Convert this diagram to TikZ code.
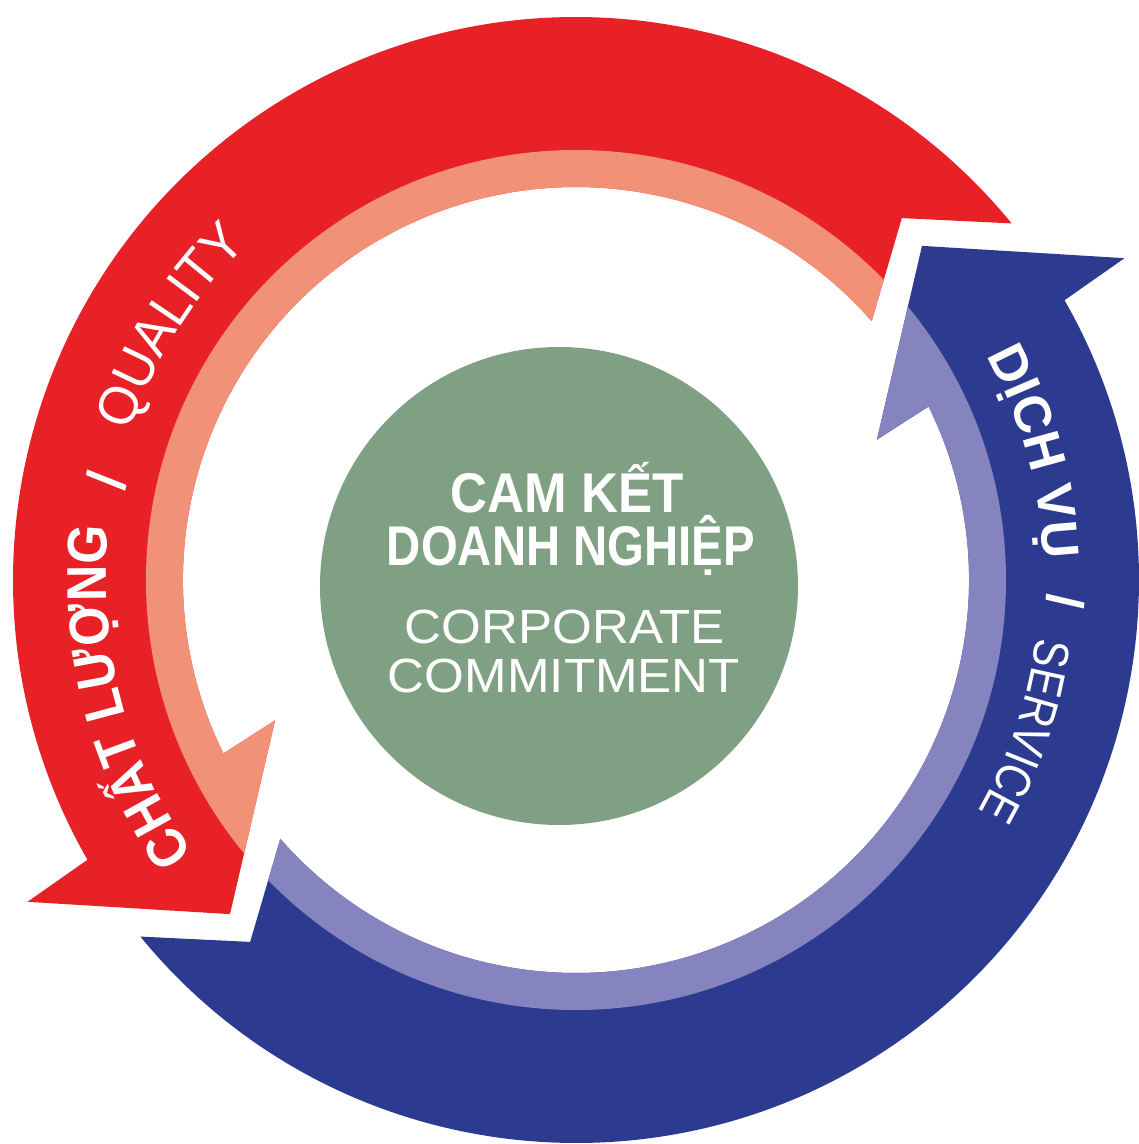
\documentclass[tikz,border=0pt]{standalone}
\usepackage{fontspec}
\setmainfont{Liberation Sans}
\usepackage{graphicx}
\usetikzlibrary{decorations.text}
\definecolor{redc}{HTML}{E82127}
\definecolor{salmonc}{HTML}{F09178}
\definecolor{bluec}{HTML}{2C3A90}
\definecolor{lbluec}{HTML}{8684BE}
\definecolor{greenc}{HTML}{80A084}
\tikzset{
  ringtext/.style={decorate, decoration={text along path, text align=center, text={#1}}},
  slashmark/.style={text=white, inner sep=0pt},
  centertext/.style={anchor=base, text=white, inner sep=0pt}
}
\begin{document}
\begin{tikzpicture}[x=1pt,y=1pt]
\useasboundingbox (-576,-564) rectangle (563,580);
\def\ArrowShape{(39.3:563pt) arc[start angle=39.3, end angle=209.8, radius=563pt] -- (210.4:636pt) -- (224:481pt) -- (205:332pt) -- (206.2:393pt) arc[start angle=206.2, end angle=41.2, radius=393pt] -- (48:487pt) -- cycle}
% red arrow (quality)
\fill[redc] \ArrowShape;
\begin{scope}
  \clip \ArrowShape;
  \fill[salmonc] (0,0) circle (430pt);
\end{scope}
% blue arrow (service)
\begin{scope}[rotate=180]
  \fill[bluec] \ArrowShape;
  \begin{scope}
    \clip \ArrowShape;
    \fill[lbluec] (0,0) circle (430pt);
  \end{scope}
\end{scope}
% centre
\node[circle, fill=greenc, minimum size=478pt, inner sep=0pt] (core) at (-17,-6) {};
\node[centertext, font=\bfseries\fontsize{56}{60}\selectfont] (l1) at (-9,68) {\resizebox{233pt}{\height}{CAM KẾT}};
\node[centertext, font=\bfseries\fontsize{56}{60}\selectfont] (l2) at (-5,15) {\resizebox{368pt}{\height}{DOANH NGHIỆP}};
\node[centertext, font=\fontsize{48}{56}\selectfont] (l3) at (-11,-63) {\resizebox{320pt}{\height}{CORPORATE}};
\node[centertext, font=\fontsize{48}{56}\selectfont] (l4) at (-12,-112) {\resizebox{352pt}{\height}{COMMITMENT}};
% ring texts, red
{\bfseries\fontsize{56}{62}\selectfont\addfontfeatures{FakeStretch=0.9}
\path[ringtext={|\color{white}|CHẤT LƯỢNG}] (224.5:470pt) arc[start angle=224.5, end angle=164.5, radius=470pt];
\node[slashmark, rotate=78, font=\bfseries\fontsize{56}{62}\selectfont] (qslash) at (168:480pt) {/};
}
{\fontsize{55}{62}\selectfont\addfontfeatures{FakeStretch=0.95}
\path[ringtext={|\color{white}|QUALITY}] (173:470pt) arc[start angle=173, end angle=123, radius=470pt];
}
% ring texts, blue
{\bfseries\fontsize{52}{58}\selectfont
\path[ringtext={|\color{white}|DỊCH VỤ}] (35.6:468pt) arc[start angle=35.6, end angle=-4.4, radius=468pt];
\node[slashmark, rotate=-92.5, font=\bfseries\fontsize{52}{58}\selectfont] (sslash) at (-2.5:490pt) {/};
}
{\fontsize{50}{58}\selectfont\addfontfeatures{FakeStretch=0.84}
\path[ringtext={|\color{white}|SERVICE}] (1.5:464pt) arc[start angle=1.5, end angle=-38.5, radius=464pt];
}
\end{tikzpicture}
\end{document}
